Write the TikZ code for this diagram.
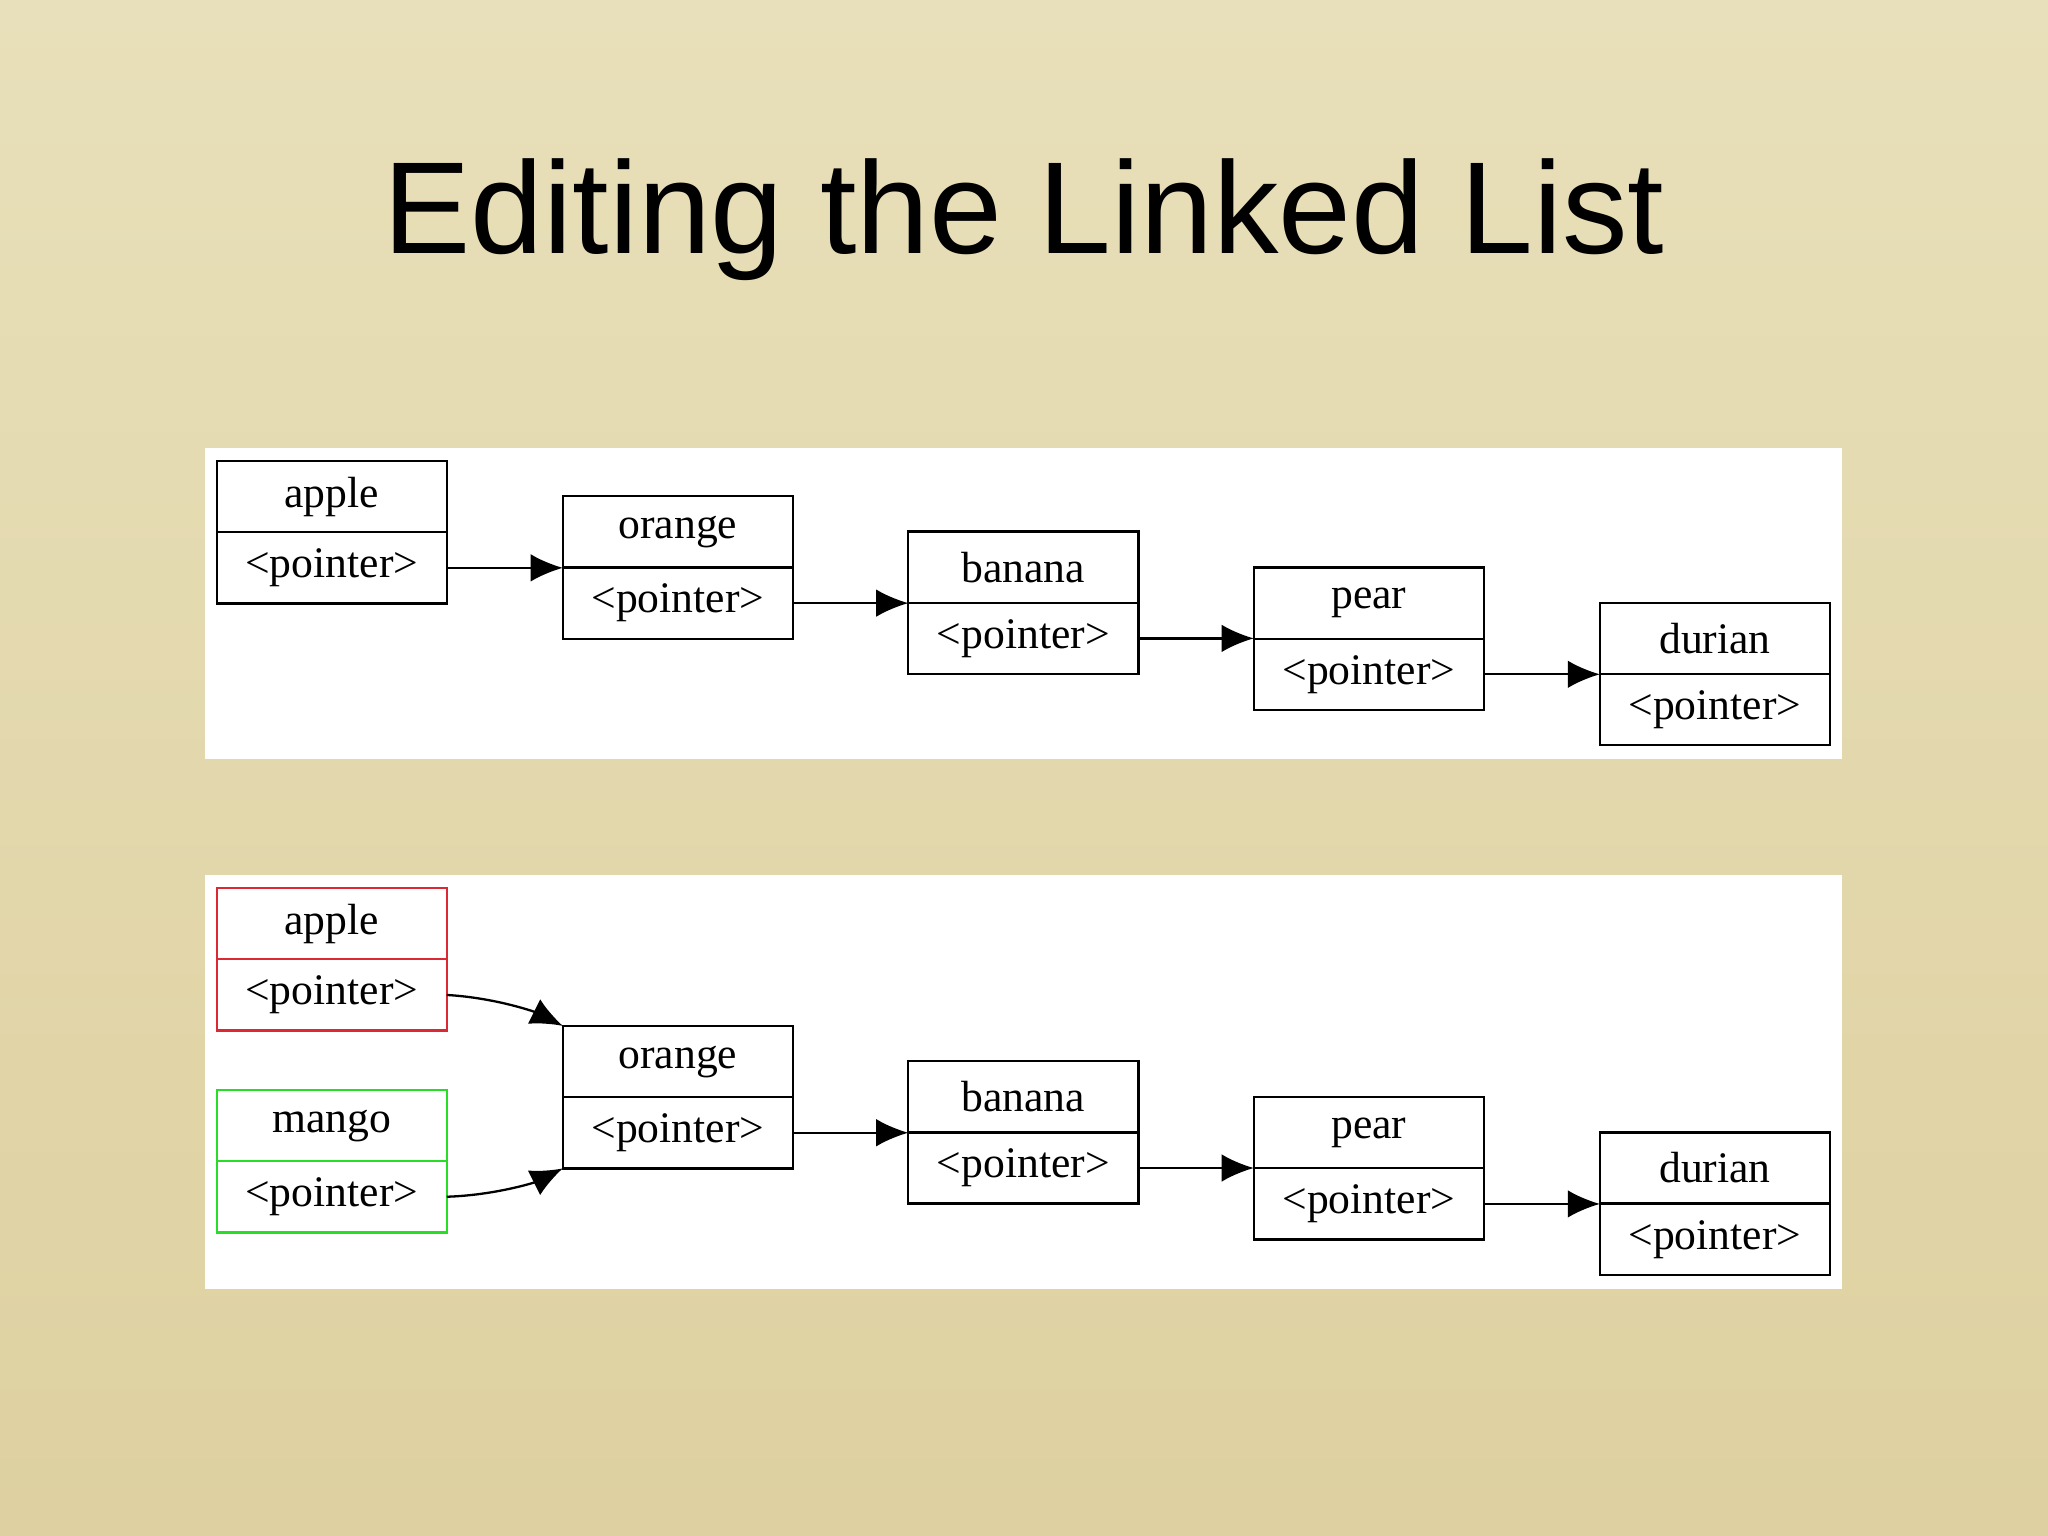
\documentclass[tikz,border=0pt]{standalone}
\usepackage{fontspec}
\setmainfont{Liberation Serif}
\newfontfamily\titlefont{Liberation Sans}
\usetikzlibrary{arrows.meta}
\definecolor{bgA}{RGB}{232,224,186}
\definecolor{bgB}{RGB}{222,208,160}
\definecolor{redb}{RGB}{220,40,50}
\definecolor{greenb}{RGB}{40,220,40}
\begin{document}
\begin{tikzpicture}[x=0.01cm,y=-0.01cm,
  cell/.style={draw,line width=0.5pt,outer sep=0pt,minimum width=1.76cm,minimum height=0.545cm,inner sep=0pt,font=\fontsize{9.5pt}{11pt}\selectfont},
  link/.style={line width=0.5pt,-{Latex[length=7pt,width=6pt]}}]
\useasboundingbox (0,0) rectangle (1568,1176);
\shade[top color=bgA,bottom color=bgB] (0,0) rectangle (1568,1176);
\node[font=\titlefont\fontsize{28.5pt}{32pt}\selectfont] (title) at (784,168) {Editing the Linked List};
\fill[white] (157,343) rectangle (1410,581);
\fill[white] (157,670) rectangle (1410,987);
% top diagram
\foreach \n/\t/\x/\y in {ta/apple/254/380.5, tb/orange/519/407.5, tc/banana/783.5/434.5, td/pear/1048/462, te/durian/1313/489}{
  \node[cell,anchor=south] (\n v) at (\x,{\y+27}) {\t};
  \node[cell,anchor=north] (\n p) at (\x,{\y+27}) {<pointer>};
}
\draw[link] (tap.east) -- (tap.east -| tbv.west);
\draw[link] (tbp.east) -- (tbp.east -| tcv.west);
\draw[link] (tcp.east) -- (tcp.east -| tdv.west);
\draw[link] (tdp.east) -- (tdp.east -| tev.west);
% bottom diagram
\foreach \n/\t/\x/\y/\c in {bb/orange/519/813/black, bc/banana/783.5/840/black, bd/pear/1048/867.5/black, be/durian/1313/894.5/black, ba/apple/254/707.5/redb, bm/mango/254/862/greenb}{
  \node[cell,draw=\c,anchor=south] (\n v) at (\x,{\y+27}) {\t};
  \node[cell,draw=\c,anchor=north] (\n p) at (\x,{\y+27}) {<pointer>};
}
\draw[link] (bap.east) .. controls (380,764) and (410,775) .. (bbv.north west);
\draw[link] (bmp.east) .. controls (380,915) and (410,905) .. (bbp.south west);
\draw[link] (bbp.east) -- (bbp.east -| bcv.west);
\draw[link] (bcp.east) -- (bcp.east -| bdv.west);
\draw[link] (bdp.east) -- (bdp.east -| bev.west);
\end{tikzpicture}
\end{document}
